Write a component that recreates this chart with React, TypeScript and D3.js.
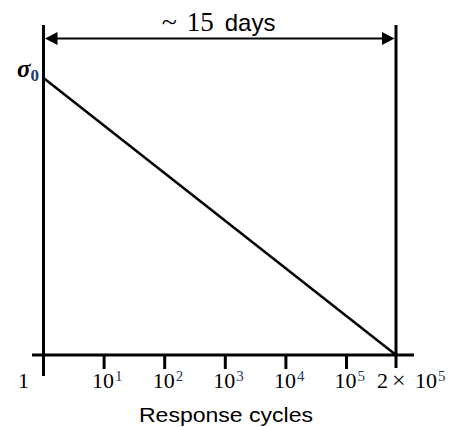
import React from 'react';
import * as d3 from 'd3';

// response cycles (log axis) and normalised stress
const cycles = [1, 200000];
const stress = [1, 0];

const tickValues = [1, 10, 100, 1000, 10000, 100000, 200000];
const tickExponents = ['', '1', '2', '3', '4', '5', '5'];
const spanLabel = '15';
const xTitle = 'Response cycles';

const W = 449;
const H = 427;

export default function App() {
  // schematic log axis: decades evenly spaced, end stretched to 2x10^5
  const x = d3.scaleLog().domain([1, 1e5, 2e5]).range([43.5, 346.5, 396]);
  const y = d3.scaleLinear().domain([0, 1]).range([355, 78]);

  const line = d3.line<number>()
    .x((d, i) => x(cycles[i]))
    .y((d) => y(d));

  const x0 = x(cycles[0]);
  const x1 = x(cycles[cycles.length - 1]);
  const axisY = y(0);
  const arrowY = 38.5;
  const mid = (x0 + x1) / 2;

  const serif = '"Liberation Serif", "Times New Roman", serif';
  const sans = '"Liberation Sans", Arial, sans-serif';
  const supColor = '#1f3a68';

  return (
    <svg width={W} height={H} style={{ position: 'absolute', left: 0, top: 0, background: '#fff' }}>
      {/* x axis */}
      <line x1={32} x2={414} y1={axisY} y2={axisY} stroke="#000" strokeWidth={3} />
      {/* boundary verticals */}
      <line x1={x0} x2={x0} y1={25} y2={376} stroke="#000" strokeWidth={3} />
      <line x1={x1} x2={x1} y1={25} y2={368} stroke="#000" strokeWidth={3} />
      {/* decade ticks */}
      {tickValues.slice(1, -1).map((t) => (
        <line key={t} x1={x(t)} x2={x(t)} y1={axisY} y2={369} stroke="#000" strokeWidth={3} />
      ))}
      {/* stress line */}
      <path d={line(stress) || ''} fill="none" stroke="#000" strokeWidth={2.5} />

      {/* duration arrow */}
      <line x1={x0 + 10} x2={x1 - 10} y1={arrowY} y2={arrowY} stroke="#000" strokeWidth={2} />
      <path d={`M${x0 + 1.5},${arrowY} L${x0 + 14},${arrowY - 6.5} L${x0 + 14},${arrowY + 6.5} Z`} fill="#000" />
      <path d={`M${x1 - 1.5},${arrowY} L${x1 - 14},${arrowY - 6.5} L${x1 - 14},${arrowY + 6.5} Z`} fill="#000" />
      <text y={31}>
        <tspan x={mid - 58} fontFamily={serif} fontSize={28}>~</tspan>
        <tspan x={mid - 33} fontFamily={serif} fontSize={27}>{spanLabel}</tspan>
        <tspan x={mid + 5} fontFamily={sans} fontSize={24}>days</tspan>
      </text>

      {/* sigma_0 label */}
      <text x={39} y={77} textAnchor="end" fontFamily={serif} fontWeight="bold">
        <tspan fontStyle="italic" fontSize={25}>σ</tspan>
        <tspan fontSize={17} dy={4} fill={supColor}>0</tspan>
      </text>

      {/* tick labels */}
      {tickValues.map((t, i) => {
        const tx = x(t);
        if (i === 0) {
          return (
            <text key={t} x={tx - 20} y={388} textAnchor="middle" fontFamily={serif} fontSize={22}>1</text>
          );
        }
        if (i === tickValues.length - 1) {
          return (
            <text key={t} y={388} fontFamily={serif} fontSize={22}>
              <tspan x={tx - 19}>2</tspan>
              <tspan x={tx - 4} fontSize={24}>×</tspan>
              <tspan x={tx + 19}>10</tspan>
              <tspan fontSize={15} dy={-7} dx={1} fill={supColor}>{tickExponents[i]}</tspan>
            </text>
          );
        }
        return (
          <text key={t} x={tx - 12} y={388} fontFamily={serif} fontSize={22}>
            10<tspan fontSize={15} dy={-7} dx={1} fill={supColor}>{tickExponents[i]}</tspan>
          </text>
        );
      })}

      {/* axis title */}
      <text x={226} y={422} textAnchor="middle" fontFamily={sans} fontSize={20}
        textLength={174} lengthAdjust="spacingAndGlyphs">{xTitle}</text>
    </svg>
  );
}
